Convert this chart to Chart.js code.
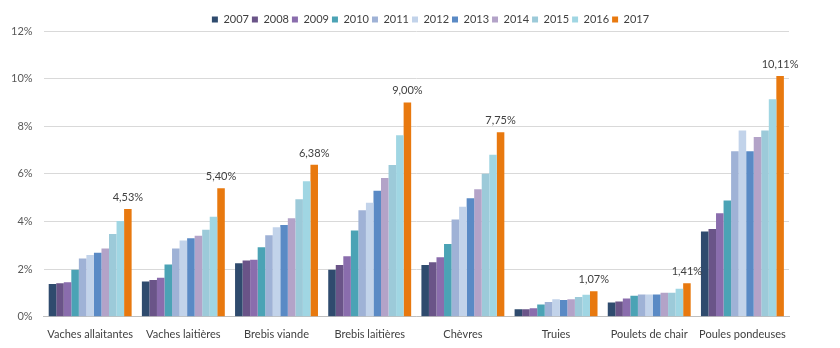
<!DOCTYPE html>
<html>
<head>
<meta charset="utf-8">
<script src="https://cdn.jsdelivr.net/npm/chart.js@4"></script>
<style>
    body { margin: 0; background: #fff; }
    #wrap { width: 840px; height: 348px; }
</style>
</head>
<body>
<div id="wrap"><canvas id="chart" width="840" height="348"></canvas></div>
<script>
const categories = ['Vaches allaitantes', 'Vaches laitières', 'Brebis viande', 'Brebis laitières', 'Chèvres', 'Truies', 'Poulets de chair', 'Poules pondeuses'];
const years = ['2007', '2008', '2009', '2010', '2011', '2012', '2013', '2014', '2015', '2016', '2017'];

// one row per year, one value (%) per category
const v2007 = [1.38, 1.48, 2.25, 1.98, 2.17, 0.32, 0.60, 3.58];
const v2008 = [1.41, 1.55, 2.36, 2.18, 2.29, 0.32, 0.64, 3.69];
const v2009 = [1.45, 1.64, 2.40, 2.54, 2.50, 0.36, 0.77, 4.35];
const v2010 = [1.98, 2.20, 2.92, 3.62, 3.06, 0.52, 0.88, 4.88];
const v2011 = [2.45, 2.87, 3.42, 4.47, 4.09, 0.62, 0.94, 6.95];
const v2012 = [2.59, 3.20, 3.76, 4.79, 4.62, 0.74, 0.94, 7.82];
const v2013 = [2.69, 3.30, 3.85, 5.29, 4.98, 0.71, 0.94, 6.95];
const v2014 = [2.87, 3.40, 4.14, 5.83, 5.36, 0.74, 1.01, 7.55];
const v2015 = [3.48, 3.65, 4.94, 6.37, 6.01, 0.83, 1.01, 7.82];
const v2016 = [4.02, 4.20, 5.69, 7.62, 6.80, 0.93, 1.18, 9.13];
const v2017 = [4.53, 5.40, 6.38, 9.00, 7.75, 1.07, 1.41, 10.11];

const yTicks = [0, 2, 4, 6, 8, 10, 12];

const series = [v2007, v2008, v2009, v2010, v2011, v2012, v2013, v2014, v2015, v2016, v2017];
const colors = ['#2F4B6E', '#6A5488', '#8A6DAD', '#4BA3B5', '#9FB2D6', '#C2D3EA', '#5A8AC5', '#B3A3C8', '#9CCAD9', '#A0D6E3', '#E8790F'];

const fontFamily = 'Lato, "Open Sans", sans-serif';

// label above the 2017 bars
const lastLabels = {
    id: 'lastLabels',
    afterDatasetsDraw(chart) {
        const ctx = chart.ctx;
        const idx = chart.data.datasets.length - 1;
        const meta = chart.getDatasetMeta(idx);
        ctx.save();
        ctx.font = '11px ' + fontFamily;
        ctx.fillStyle = '#404040';
        ctx.textAlign = 'center';
        ctx.textBaseline = 'bottom';
        meta.data.forEach((bar, i) => {
            const txt = v2017[i].toFixed(2).replace('.', ',') + '%';
            ctx.fillText(txt, bar.x, bar.y - 6);
        });
        ctx.restore();
    }
};

// pull the plot a bit closer to the legend, and center the legend on the page
const legendGap = {
    id: 'legendGap',
    beforeLayout(chart) {
        const lg = chart.legend;
        if (lg && !lg._gapPatched) {
            const fit = lg.fit;
            lg.fit = function () {
                fit.call(this);
                this.height -= 4;
            };
            lg._gapPatched = true;
        }
    },
    afterLayout(chart) {
        const lg = chart.legend;
        if (lg) {
            lg.left += 36;
            lg.right += 36;
        }
    }
};

new Chart(document.getElementById('chart'), {
    type: 'bar',
    data: {
        labels: categories,
        datasets: series.map((s, i) => ({
            label: years[i],
            data: s,
            backgroundColor: colors[i],
            borderWidth: 0,
            categoryPercentage: 0.89,
            barPercentage: 1.0
        }))
    },
    options: {
        responsive: false,
        animation: false,
        layout: { padding: { top: 11, right: 51, left: 0, bottom: 4 } },
        plugins: {
            legend: {
                position: 'top',
                labels: {
                    boxWidth: 6,
                    boxHeight: 6,
                    padding: 3,
                    color: '#404040',
                    font: { family: fontFamily, size: 11 }
                }
            },
            tooltip: { enabled: false }
        },
        scales: {
            x: {
                grid: { display: false },
                border: { color: '#BFBFBF' },
                ticks: { color: '#404040', font: { family: fontFamily, size: 11 }, padding: 3 }
            },
            y: {
                min: 0,
                max: 12,
                afterBuildTicks(axis) {
                    axis.ticks = yTicks.map(v => ({ value: v }));
                },
                grid: { color: '#D9D9D9', drawTicks: false },
                border: { display: false },
                ticks: {
                    color: '#595959',
                    padding: 11,
                    font: { family: fontFamily, size: 11 },
                    callback: v => v + '%'
                }
            }
        }
    },
    plugins: [lastLabels, legendGap]
});
</script>
</body>
</html>
